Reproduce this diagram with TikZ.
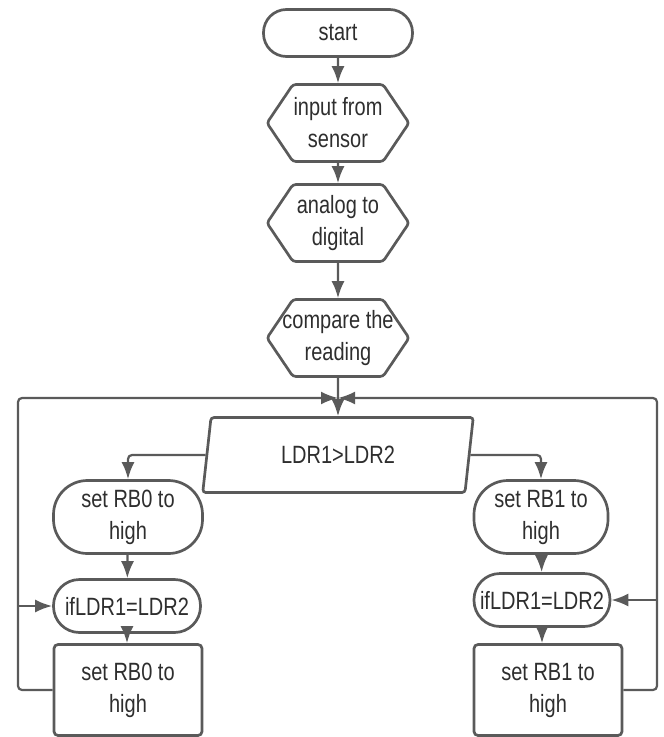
\documentclass[tikz,border=0pt]{standalone}
\usepackage{fontspec}
\setmainfont[FakeStretch=0.8]{Liberation Sans}
\usetikzlibrary{positioning, shapes.geometric, shapes.symbols, arrows.meta, calc}
\definecolor{flowline}{HTML}{5A5A5A}
\definecolor{flowtext}{HTML}{2E2E2E}
\tikzset{
  base/.style={draw=flowline, line width=2.7pt, text=flowtext, align=center, inner sep=0pt, font=\fontsize{25}{32}\selectfont},
  terminal/.style={base, rectangle, rounded corners=#1},
  hexbox/.style={base, signal, signal to=west and east, signal pointer angle=112, minimum width=142pt, minimum height=77pt, rounded corners=3pt},
  iobox/.style={base, trapezium, trapezium left angle=78, trapezium right angle=102, trapezium stretches=true, minimum width=271pt, minimum height=75pt, rounded corners=3pt},
  procbox/.style={base, rectangle, rounded corners=4pt, minimum width=148pt, minimum height=91pt},
  flow/.style={draw=flowline, line width=2.2pt, -{Latex[length=17pt,width=13pt]}, rounded corners=4pt},
}
\begin{document}
\begin{tikzpicture}[x=1pt, y=-1pt]
  \useasboundingbox (0,0) rectangle (664,737);
  \node[terminal=23pt, minimum width=149pt, minimum height=47pt] (start) at (338,33) {start};
  \node[hexbox] (input) at (338,123) {input from\\sensor};
  \node[hexbox] (adc) at (338,223) {analog to\\digital};
  \node[hexbox] (cmp) at (338,338) {\makebox[90pt]{compare the}\\reading};
  \node[iobox] (cond) at (338,455) {LDR1>LDR2};
  \node[terminal=34pt, minimum width=149pt, minimum height=73pt] (rbzero) at (128,517) {set RB0 to\\high};
  \node[terminal=26pt, minimum width=147pt, minimum height=53pt] (ifzero) at (127,606) {ifLDR1=LDR2};
  \node[procbox] (setzero) at (128,690) {set RB0 to\\high};
  \node[terminal=34pt, minimum width=134pt, minimum height=73pt] (rbone) at (541,517) {set RB1 to\\high};
  \node[terminal=26pt, minimum width=136pt, minimum height=53pt] (ifone) at (542,600) {ifLDR1=LDR2};
  \node[procbox] (setone) at (548,690) {set RB1 to\\high};
  \coordinate (jn) at (338,398);
  \coordinate (lbus) at (18,0);
  \coordinate (rbus) at (657,0);
  \draw[flow] (start) -- (input);
  \draw[flow] (input) -- (adc);
  \draw[flow] (adc) -- (cmp);
  \draw[flow] (cmp) -- (cond);
  \draw[flow] (cond.west) -| (rbzero);
  \draw[flow] (cond.east) -| (rbone);
  \draw[flow] (rbzero) -- (ifzero);
  \draw[flow] (ifzero) -- (ifzero |- setzero.north);
  \draw[flow] (rbone) -- (ifone);
  \draw[flow] (ifone) -- (ifone |- setone.north);
  \draw[flow] (setzero.west) -| (lbus |- jn) -- (jn);
  \draw[flow] (lbus |- ifzero) -- (ifzero);
  \draw[flow] (setone.east) -| (rbus |- jn) -- (jn);
  \draw[flow] (rbus |- ifone) -- (ifone);
\end{tikzpicture}
\end{document}
